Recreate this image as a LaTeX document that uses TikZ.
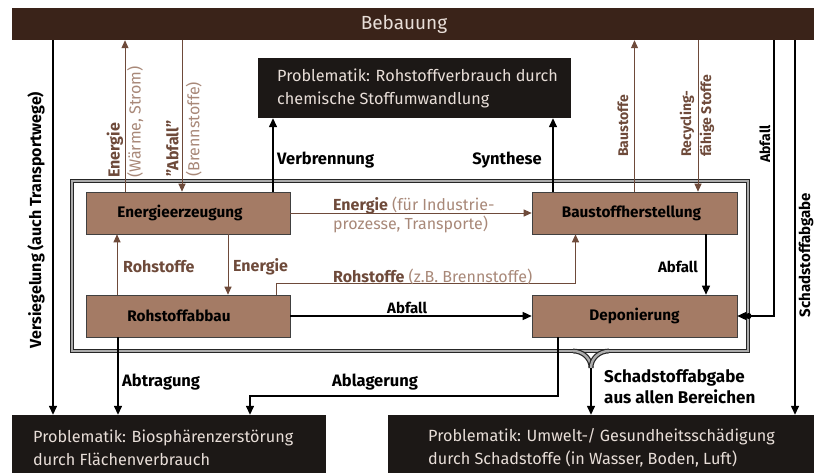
\documentclass[tikz,border=0pt]{standalone}
\usepackage{fontspec}
\setmainfont{Fira Sans}
\usetikzlibrary{arrows.meta}
\definecolor{bebau}{HTML}{3A2319}
\definecolor{darkbox}{HTML}{1C1816}
\definecolor{boxfill}{HTML}{A47B65}
\definecolor{brownline}{HTML}{6E4A3A}
\definecolor{brownlight}{HTML}{A88878}
\definecolor{paletext}{HTML}{E8DED8}
\begin{document}
\begin{tikzpicture}[x=1pt,y=-1pt,
  font=\fontsize{16}{19}\selectfont,
  probbox/.style={fill=darkbox,inner sep=0pt},
  probtext/.style={text=paletext,align=left,inner sep=0pt,anchor=west,font=\fontsize{16.2}{23}\selectfont},
  stagebox/.style={fill=boxfill,draw=black!75,line width=0.6pt,minimum width=204pt,minimum height=42pt,font=\fontsize{15.3}{17}\selectfont\bfseries,inner sep=0pt},
  blk/.style={draw=black,line width=1.4pt,-{Triangle[length=9pt,width=8pt]}},
  brn/.style={draw=brownline,line width=1pt,-{Triangle[length=8pt,width=7pt]}},
  frameline/.style={draw=black!85,line width=1.2pt,double=gray!65,double distance=2.4pt},
  lbl/.style={font=\fontsize{16.5}{20}\selectfont\bfseries,inner sep=0pt},
  blbl/.style={font=\fontsize{16}{19}\selectfont,text=brownline,inner sep=0pt,align=left},
]
\useasboundingbox (0,0) rectangle (814,472);
% Bebauung bar
\node[fill=bebau,minimum width=802pt,minimum height=32pt,inner sep=0pt] (bb) at (413,24) {};
\node[text=paletext,inner sep=0pt,font=\fontsize{19}{21}\selectfont] (bbt) at (404,24) {Bebauung};
% problem boxes
\node[probbox,minimum width=313pt,minimum height=60pt] (pt) at (414.5,88) {};
\node[probtext] (ptt) at (277,88) {Problematik: Rohstoffverbrauch durch\\chemische Stoffumwandlung};
\node[probbox,minimum width=314pt,minimum height=66pt] (pl) at (169,448) {};
\node[probtext] (plt) at (33,448) {Problematik: Biosphärenzerstörung\\durch Flächenverbrauch};
\node[probbox,minimum width=426pt,minimum height=66pt] (pr) at (601,448) {};
\node[probtext] (prt) at (428,448) {Problematik: Umwelt-/ Gesundheitsschädigung\\durch Schadstoffe (in Wasser, Boden, Luft)};
% frame
\node[frameline,minimum width=676pt,minimum height=170pt,inner sep=0pt] (frame) at (410,266) {};
\coordinate (br) at (591,368);
\draw[frameline] (573,351) to[out=0,in=90] (br);
\draw[frameline] (609,351) to[out=180,in=90] (br);
% stage boxes
\node[stagebox] (ee) at (188,213) {\hspace*{-16pt}Energieerzeugung};
\node[stagebox] (ra) at (188,316) {\hspace*{-18pt}Rohstoffabbau};
\node[stagebox,minimum width=205pt] (bh) at (634.5,213) {\hspace*{-6pt}Baustoffherstellung};
\node[stagebox,minimum width=205pt] (dp) at (634.5,316) {Deponierung};
% connectors to Bebauung
\draw[blk] ([xshift=-360pt]bb.south) -- ([xshift=-360pt]bb.south |- pl.north);
\draw[brn] ([xshift=-63pt]ee.north) -- ([xshift=-63pt]ee.north |- bb.south);
\draw[brn] ([xshift=-6pt]ee.north |- bb.south) -- ([xshift=-6pt]ee.north);
\draw[blk] ([xshift=85pt]ee.north) -- ([xshift=85pt]ee.north |- pt.south);
\draw[blk] ([xshift=-81.5pt]bh.north) -- ([xshift=-81.5pt]bh.north |- pt.south);
\draw[brn] (bh.north) -- (bh.north |- bb.south);
\draw[brn] ([xshift=63.5pt]bh.north |- bb.south) -- ([xshift=63.5pt]bh.north);
\draw[blk] ([xshift=361pt]bb.south) |- (dp.east);
\fill (frame.east |- dp.east) circle (3pt);
\draw[blk] ([xshift=382pt]bb.south) -- ([xshift=382pt]bb.south |- pr.north);
% internal
\draw[brn] (ee.east) -- (bh.west);
\draw[brn] ([xshift=-71pt]ra.north) -- ([xshift=-71pt]ee.south);
\draw[brn] ([xshift=40pt]ee.south) -- ([xshift=40pt]ra.north);
\draw[brn] ([xshift=88pt]ra.north) -- ++(0,-11) -| ([xshift=-59pt]bh.south);
\draw[blk] (ra.east) -- (dp.west);
\draw[blk] ([xshift=71.5pt]bh.south) -- ([xshift=71.5pt]dp.north);
% to bottom
\draw[blk] ([xshift=-70pt]ra.south) -- ([xshift=-70pt]ra.south |- pl.north);
\draw[blk] ([xshift=-76.5pt]dp.south) |- (250,396) -- (250,396 |- pl.north);
\draw[blk] (br) -- (br |- pr.north);
% rotated labels
\node[lbl,rotate=90,font=\fontsize{16}{20}\selectfont\bfseries] (lv) at (36,220) {Versiegelung (auch Transportwege)};
\node[blbl,rotate=90,anchor=west] (le) at (125,178) {\textbf{Energie}\\[2pt]\textcolor{brownlight}{(Wärme, Strom)}};
\node[blbl,rotate=90,anchor=west] (la) at (184,177) {\textbf{"Abfall"}\\[2pt]\textcolor{brownlight}{(Brennstoffe)}};
\node[blbl,rotate=90,anchor=west,font=\fontsize{14}{16}\selectfont\bfseries] (lb) at (623,157) {Baustoffe};
\node[blbl,rotate=90,anchor=west,font=\fontsize{14}{17}\selectfont\bfseries] (lr) at (697,157) {Recycling-\\[3pt]fähige Stoffe};
\node[lbl,rotate=90,anchor=west,font=\fontsize{14}{16}\selectfont\bfseries] (lab) at (765,163) {Abfall};
\node[lbl,rotate=90,font=\fontsize{15}{17}\selectfont\bfseries] (ls) at (806,255) {Schadstoffabgabe};
% horizontal labels
\node[lbl,anchor=west] (lvb) at (277,160) {Verbrennung};
\node[lbl,anchor=east] (lsy) at (542,160) {Synthese};
\node[blbl,anchor=west] (leI) at (333,215) {\textbf{Energie} \textcolor{brownlight}{(für Industrie-}\\\textcolor{brownlight}{prozesse, Transporte)}};
\node[blbl,anchor=west,font=\fontsize{16}{19}\selectfont\bfseries] (lro) at (123,267) {Rohstoffe};
\node[blbl,anchor=west,font=\fontsize{16}{19}\selectfont\bfseries] (len) at (233,267) {Energie};
\node[blbl,anchor=west] (lrz) at (333,277) {\textbf{Rohstoffe} \textcolor{brownlight}{(z.B. Brennstoffe)}};
\node[lbl,anchor=west,font=\fontsize{15}{17}\selectfont\bfseries] (lam) at (387,308) {Abfall};
\node[lbl,anchor=east,font=\fontsize{15}{17}\selectfont\bfseries] (lad) at (698,267) {Abfall};
\node[lbl,anchor=west] (lat) at (122,382) {Abtragung};
\node[lbl,anchor=west] (lal) at (332,382) {Ablagerung};
\node[lbl,anchor=west,align=left,font=\fontsize{17}{21}\selectfont\bfseries] (lsa) at (604,387) {Schadstoffabgabe\\aus allen Bereichen};
\end{tikzpicture}
\end{document}
